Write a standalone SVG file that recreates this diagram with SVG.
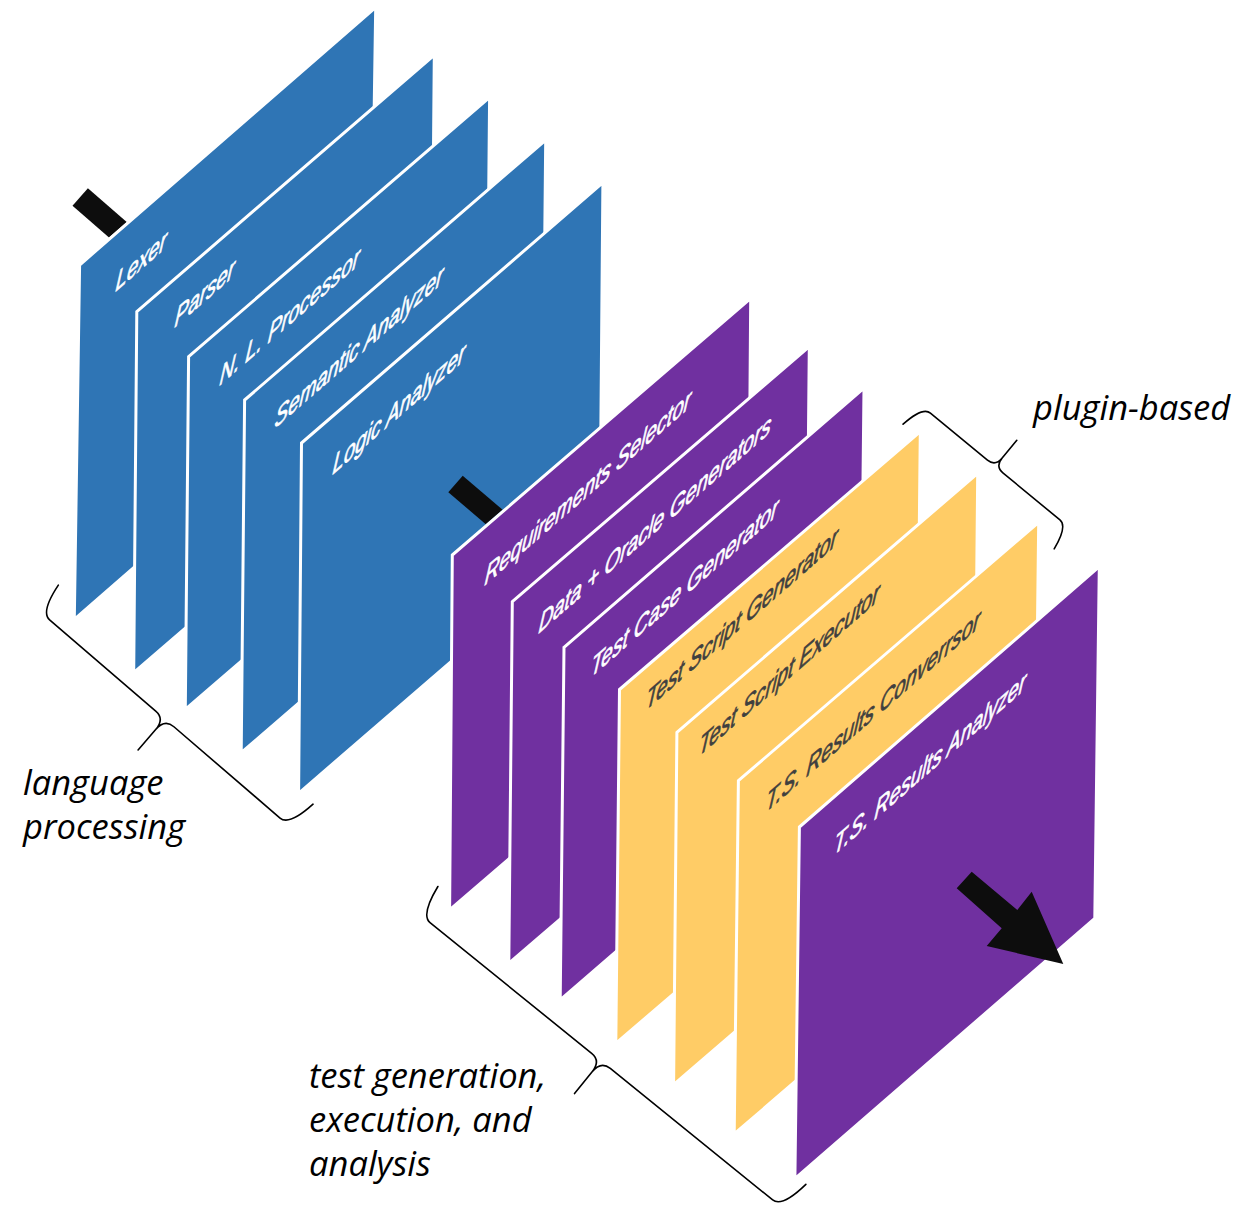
<svg xmlns="http://www.w3.org/2000/svg" width="1252" height="1212" viewBox="0 0 1252 1212">
<style>
.panel{stroke:#fff;stroke-width:3;stroke-linejoin:miter}
.blue{fill:#2F75B5}
.purple{fill:#7030A0}
.yellow{fill:#FFCC66}
.lbl{font-family:"Liberation Sans",Arial,sans-serif;font-style:italic;font-size:28.5px;stroke-width:0.8px}
.lw{fill:#fff;stroke:#fff}
.ld{fill:#3F3F3F;stroke:#3F3F3F}
.brace{fill:none;stroke:#000;stroke-width:1.6;stroke-linecap:round;stroke-linejoin:round}
.cap{font-family:"Open Sans",sans-serif;font-style:italic;font-size:34.5px;fill:#000}
.conn{fill:#0D0D0D}
</style>
<rect width="1252" height="1212" fill="#fff"/>
<g id="connectors-back">
  <polygon class="conn" points="72.5,205.7 87.9,188.3 126.7,222 109,237.4"/>
</g>
<g id="lexer">
  <polygon class="panel blue" points="79.6,265 375.7,7.3 370.4,361.6 74.3,619.3"/>
  <text class="lbl lw" transform="matrix(0.71,-0.616,-0.12,1,115,292)">Lexer</text>
</g>
<g id="parser">
  <polygon class="panel blue" points="136.8,311.7 434.3,55 431.2,416 133.7,672.7"/>
  <text class="lbl lw" transform="matrix(0.71,-0.616,-0.12,1,174,328)">Parser</text>
</g>
<g id="nl-processor">
  <polygon class="panel blue" points="188.6,356.7 489.6,97.3 486.3,449.9 185.3,709.3"/>
  <text class="lbl lw" transform="matrix(0.71,-0.616,-0.12,1,219,386)">N. L. Processor</text>
</g>
<g id="semantic-analyzer">
  <polygon class="panel blue" points="244.6,400 545.7,140 542.3,492.7 241.2,752.7"/>
  <text class="lbl lw" transform="matrix(0.71,-0.616,-0.12,1,274,429)">Semantic Analyzer</text>
</g>
<g id="logic-analyzer">
  <polygon class="panel blue" points="301.5,443 602.9,182.7 600,533 298.6,793.3"/>
  <text class="lbl lw" transform="matrix(0.71,-0.616,-0.12,1,332,475)">Logic Analyzer</text>
</g>
<g id="connectors-mid">
  <polygon class="conn" points="448.3,492.3 462.7,475.7 502.6,509.7 485.8,524.2"/>
</g>
<g id="requirements-selector">
  <polygon class="panel purple" points="452.3,555 750.7,298.3 748,653.3 449.6,910"/>
  <text class="lbl lw" transform="matrix(0.71,-0.616,-0.12,1,484,586)">Requirements Selector</text>
</g>
<g id="data-oracle-generators">
  <polygon class="panel purple" points="512.3,601.7 809.3,346.7 805.8,708.3 508.8,963.3"/>
  <text class="lbl lw" transform="matrix(0.71,-0.616,-0.12,1,538,634)">Data + Oracle Generators</text>
</g>
<g id="test-case-generator">
  <polygon class="panel purple" points="564,647.3 864,388 860.2,740.5 560.2,999.8"/>
  <text class="lbl lw" transform="matrix(0.71,-0.616,-0.12,1,590,678)">Test Case Generator</text>
</g>
<g id="test-script-generator">
  <polygon class="panel yellow" points="619.5,689.5 920.3,431.7 916.6,785.6 615.8,1043.4"/>
  <text class="lbl ld" transform="matrix(0.71,-0.616,-0.12,1,645,711)">Test Script Generator</text>
</g>
<g id="test-script-executor">
  <polygon class="panel yellow" points="676.9,732.4 977.7,473.3 974.4,825.6 673.6,1084.7"/>
  <text class="lbl ld" transform="matrix(0.71,-0.616,-0.12,1,698,757)">Test Script Executor</text>
</g>
<g id="ts-results-converrsor">
  <polygon class="panel yellow" points="738.4,780.7 1038.7,522.3 1034.5,875.6 734.2,1134"/>
  <text class="lbl ld" transform="matrix(0.71,-0.616,-0.12,1,765,813)">T.S. Results Converrsor</text>
</g>
<g id="ts-results-analyzer">
  <polygon class="panel purple" points="799.4,827 1099.3,566.7 1094.8,918.3 794.9,1178.6"/>
  <text class="lbl lw" transform="matrix(0.71,-0.616,-0.12,1,833,856)">T.S. Results Analyzer</text>
</g>
<g id="connectors">
  <polygon class="conn" points="956.7,888.3 971.7,871.7 1017.3,910 1031.7,891.7 1063.3,964 986.7,946 1001.7,928.3"/>
</g>
<g id="brace-language">
  <path class="brace" transform="matrix(0.758,0.652,-0.652,0.758,40.5,612)" d="M -4,-32 Q 0,0 12,0 L 152,0 Q 164,0 164,14 L 164,41 M 164,14 Q 164,0 176,0 L 316,0 Q 328,0 332,-32"/>
  <text class="cap" x="23" y="795">language</text>
  <text class="cap" x="23" y="839">processing</text>
</g>
<g id="brace-plugin">
  <path class="brace" transform="matrix(0.771,0.636,0.636,-0.771,922.7,406.7)" d="M -4,-26 Q 0,0 10,0 L 84,0 Q 94,0 94,11 L 94,34 M 94,11 Q 94,0 104,0 L 178,0 Q 188,0 192,-26"/>
  <text class="cap" x="1033" y="420">plugin-based</text>
</g>
<g id="brace-test">
  <path class="brace" transform="matrix(0.777,0.629,-0.629,0.777,420.7,915)" d="M -4.6,-33 Q 0,0 12,0 L 220,0 Q 232,0 232,14 L 232,42 M 232,14 Q 232,0 244,0 L 453,0 Q 465,0 469,-33"/>
  <text class="cap" x="309" y="1088">test generation,</text>
  <text class="cap" x="309" y="1132">execution, and</text>
  <text class="cap" x="309" y="1176">analysis</text>
</g>
</svg>
